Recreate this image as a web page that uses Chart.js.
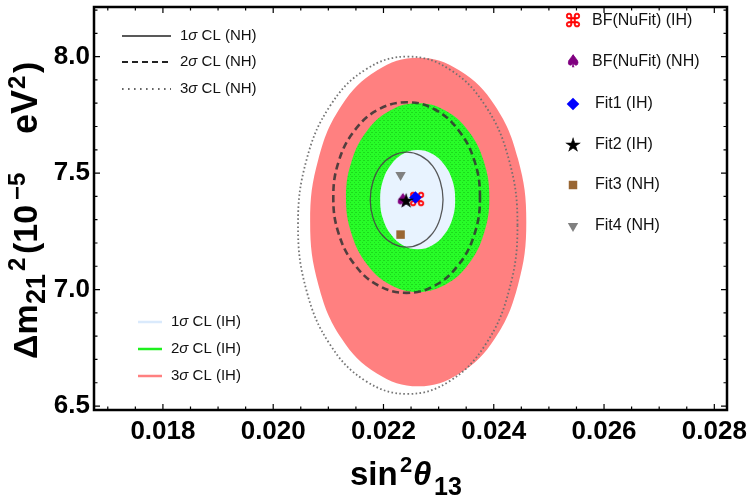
<!DOCTYPE html>
<html>
<head>
<meta charset="utf-8">
<script src="https://cdn.jsdelivr.net/npm/chart.js@4.4.1/dist/chart.umd.min.js"></script>
<style>
  html, body { margin: 0; padding: 0; background: #fff; }
</style>
</head>
<body>
<canvas id="chart" width="750" height="502"></canvas>
<script>
// axis ticks
const xTicks = [0.018, 0.020, 0.022, 0.024, 0.026, 0.028];
const yTicks = [6.5, 7.0, 7.5, 8.0];

// confidence contours (closed loops)
const ih3X = [0.02459, 0.02444, 0.02402, 0.02338, 0.02263, 0.02188, 0.02124, 0.02082, 0.02067, 0.02082, 0.02124, 0.02188, 0.02263, 0.02338, 0.02402, 0.02444];
const ih3Y = [7.29, 7.56, 7.79, 7.94, 7.995, 7.94, 7.79, 7.56, 7.29, 7.02, 6.79, 6.64, 6.585, 6.64, 6.79, 7.02];
const ih2X = [0.02392, 0.02382, 0.02354, 0.02312, 0.02262, 0.02212, 0.02170, 0.02142, 0.02132, 0.02142, 0.02170, 0.02212, 0.02262, 0.02312, 0.02354, 0.02382];
const ih2Y = [7.395, 7.55, 7.681, 7.769, 7.80, 7.769, 7.681, 7.55, 7.395, 7.24, 7.109, 7.021, 6.99, 7.021, 7.109, 7.24];
const ih1X = [0.0233, 0.02325, 0.0231, 0.02288, 0.02262, 0.02236, 0.02214, 0.02199, 0.02194, 0.02199, 0.02214, 0.02236, 0.02262, 0.02288, 0.0231, 0.02325];
const ih1Y = [7.386, 7.468, 7.537, 7.583, 7.599, 7.583, 7.537, 7.468, 7.386, 7.304, 7.235, 7.189, 7.173, 7.189, 7.235, 7.304];
const nh1X = [0.02308, 0.02303, 0.02289, 0.02267, 0.02242, 0.02217, 0.02195, 0.02181, 0.02176, 0.02181, 0.02195, 0.02217, 0.02242, 0.02267, 0.02289, 0.02303];
const nh1Y = [7.386, 7.464, 7.531, 7.575, 7.59, 7.575, 7.531, 7.464, 7.386, 7.308, 7.241, 7.197, 7.182, 7.197, 7.241, 7.308];
const nh2X = [0.02375, 0.02365, 0.02336, 0.02293, 0.02242, 0.02191, 0.02148, 0.02119, 0.02109, 0.02119, 0.02148, 0.02191, 0.02242, 0.02293, 0.02336, 0.02365];
const nh2Y = [7.395, 7.552, 7.684, 7.773, 7.804, 7.773, 7.684, 7.552, 7.395, 7.238, 7.106, 7.017, 6.986, 7.017, 7.106, 7.238];
const nh3X = [0.02443, 0.02428, 0.02385, 0.02320, 0.02244, 0.02168, 0.02103, 0.02060, 0.02045, 0.02060, 0.02103, 0.02168, 0.02244, 0.02320, 0.02385, 0.02428];
const nh3Y = [7.276, 7.553, 7.788, 7.945, 8.0, 7.945, 7.788, 7.553, 7.276, 6.999, 6.764, 6.607, 6.552, 6.607, 6.764, 6.999];

// best fit / fit points [sin^2 theta13, dm21^2]
const bfIH = [0.02261, 7.385];
const bfNH = [0.02235, 7.381];
const fit1 = [0.02258, 7.395];
const fit2 = [0.02241, 7.381];
const fit3 = [0.02231, 7.236];
const fit4 = [0.02231, 7.492];

const nhLabels = ['1', '2', '3'];
const ihLabels = ['1', '2', '3'];
const markerLabels = ['BF(NuFit) (IH)', 'BF(NuFit) (NH)', 'Fit1 (IH)', 'Fit2 (IH)', 'Fit3 (NH)', 'Fit4 (NH)'];

const toPoints = (xs, ys) => xs.map((x, i) => ({ x: x, y: ys[i] }));

/**
 * Small canvas with a text glyph, used as a point style.
 */
function glyph(ch, color, size, box) {
    const c = document.createElement('canvas');
    c.width = box; c.height = box;
    const g = c.getContext('2d');
    g.fillStyle = color;
    g.strokeStyle = color;
    g.lineWidth = 0.6;
    g.font = size + 'px "DejaVu Sans"';
    g.textAlign = 'center';
    g.textBaseline = 'middle';
    g.fillText(ch, box / 2, box / 2 + 1);
    g.strokeText(ch, box / 2, box / 2 + 1);
    return c;
}

function meshPattern() {
    const c = document.createElement('canvas');
    c.width = 4; c.height = 4;
    const g = c.getContext('2d');
    g.fillStyle = 'rgb(40,252,40)';
    g.fillRect(0, 0, 4, 4);
    g.fillStyle = 'rgb(28,218,28)';
    g.fillRect(0, 0, 1, 1);
    g.fillRect(2, 2, 1, 1);
    g.fillRect(3, 0, 1, 1);
    return g.createPattern(c, 'repeat');
}

const cmdGlyph = glyph('\u2318', '#ff0000', 18, 24);
const spadeGlyph = glyph('\u2660', '#800080', 17, 22);
const starGlyph = glyph('\u2605', '#000000', 18, 22);

const markerStyles = [
    { pointStyle: cmdGlyph, radius: 7, backgroundColor: '#ff0000' },
    { pointStyle: spadeGlyph, radius: 7, backgroundColor: '#800080' },
    { pointStyle: 'rectRot', radius: 6.3, backgroundColor: '#0000ff' },
    { pointStyle: starGlyph, radius: 7, backgroundColor: '#000000' },
    { pointStyle: 'rect', radius: 6, backgroundColor: 'rgb(153,102,51)' },
    { pointStyle: 'triangle', radius: 6, rotation: 180, backgroundColor: '#808080' }
];

function markerSet(label, pt, st) {
    return {
        label: label,
        data: [{ x: pt[0], y: pt[1] }],
        pointStyle: st.pointStyle,
        pointRadius: st.radius,
        pointRotation: st.rotation || 0,
        pointBackgroundColor: st.backgroundColor,
        pointBorderWidth: 0,
        showLine: false
    };
}

function contourSet(label, xs, ys, opts) {
    return Object.assign({
        label: label,
        data: toPoints(xs, ys),
        showLine: true,
        closed: true,
        tension: 0.4,
        pointRadius: 0,
        borderWidth: 0,
        fill: false
    }, opts);
}

// make the contour lines closed, smooth loops
const closeLoops = {
    id: 'closeLoops',
    afterDatasetUpdate(chart, args) {
        const ds = chart.data.datasets[args.index];
        if (ds && ds.closed) {
            args.meta.dataset._loop = true;
            args.meta.dataset._fullLoop = true;
        }
    }
};

function drawPieces(ctx, pieces, x0, y0) {
    pieces.forEach(p => {
        ctx.font = p.font;
        ctx.fillText(p.t, x0 + p.dx, y0 + p.dy);
    });
}

const decorations = {
    id: 'decorations',
    afterDraw(chart) {
        const ctx = chart.ctx;
        const a = chart.chartArea;
        const xs = chart.scales.x;
        const ys = chart.scales.y;
        ctx.save();

        // frame
        ctx.strokeStyle = '#000';
        ctx.lineWidth = 2.5;
        ctx.strokeRect(a.left, a.top, a.right - a.left, a.bottom - a.top);

        // inward ticks on all four sides
        ctx.lineWidth = 1.2;
        ctx.beginPath();
        for (let k = 0; k <= 24; k++) {
            const v = 0.0170 + k * 0.0005;
            if (v < xs.min || v > xs.max) continue;
            const major = xTicks.some(t => Math.abs(t - v) < 1e-7);
            const len = major ? 6 : 3.5;
            const px = xs.getPixelForValue(v);
            ctx.moveTo(px, a.bottom); ctx.lineTo(px, a.bottom - len);
            ctx.moveTo(px, a.top); ctx.lineTo(px, a.top + len);
        }
        for (let k = 0; k <= 18; k++) {
            const v = 6.5 + k * 0.1;
            if (v < ys.min || v > ys.max) continue;
            const major = yTicks.some(t => Math.abs(t - v) < 1e-7);
            const len = major ? 6 : 3.5;
            const py = ys.getPixelForValue(v);
            ctx.moveTo(a.left, py); ctx.lineTo(a.left + len, py);
            ctx.moveTo(a.right, py); ctx.lineTo(a.right - len, py);
        }
        ctx.stroke();

        // axis titles
        ctx.fillStyle = '#000';
        ctx.textAlign = 'left';
        ctx.textBaseline = 'alphabetic';
        drawPieces(ctx, [
            { t: 'sin', font: 'bold 33px "Liberation Sans"', dx: 0, dy: 0 },
            { t: '2', font: 'bold 22px "Liberation Sans"', dx: 50, dy: -13 },
            { t: '\u03B8', font: 'italic bold 33px "Liberation Sans"', dx: 63, dy: 0 },
            { t: '13', font: 'bold 25px "Liberation Sans"', dx: 84, dy: 10 }
        ], 350, 485);

        ctx.save();
        ctx.translate(37, 360);
        ctx.rotate(-Math.PI / 2);
        drawPieces(ctx, [
            { t: '\u0394m', font: 'bold 34px "Liberation Sans"', dx: 1, dy: 0 },
            { t: '21', font: 'bold 27px "Liberation Sans"', dx: 56, dy: 8 },
            { t: '2', font: 'bold 24px "Liberation Sans"', dx: 89, dy: -12 },
            { t: '(10', font: 'bold 34px "Liberation Sans"', dx: 106, dy: 0 },
            { t: '\u22125', font: 'bold 24px "Liberation Sans"', dx: 160, dy: -12 },
            { t: 'eV', font: 'bold 36px "Liberation Sans"', dx: 226, dy: 0 },
            { t: '2', font: 'bold 24px "Liberation Sans"', dx: 271, dy: -12 },
            { t: ')', font: 'bold 34px "Liberation Sans"', dx: 287, dy: 0 }
        ], 0, 0);
        ctx.restore();

        // legends
        ctx.fillStyle = '#111';
        ctx.textBaseline = 'middle';
        const sigmaText = (n, tag, x, y) => {
            ctx.font = '15px "Liberation Sans"';
            ctx.fillText(n, x, y);
            let cx = x + ctx.measureText(n).width;
            ctx.font = 'italic 15px "Liberation Sans"';
            ctx.fillText('\u03C3', cx, y);
            cx += ctx.measureText('\u03C3').width;
            ctx.font = '15px "Liberation Sans"';
            ctx.fillText(' CL (' + tag + ')', cx, y);
        };

        const nhRows = [36, 62, 89];
        const nhStyles = [
            { color: '#222', width: 1.4, dash: [] },
            { color: '#222', width: 1.8, dash: [6, 4] },
            { color: '#333', width: 1.6, dash: [1.6, 4.4] }
        ];
        nhLabels.forEach((n, i) => {
            const st = nhStyles[i];
            ctx.strokeStyle = st.color;
            ctx.lineWidth = st.width;
            ctx.setLineDash(st.dash);
            ctx.beginPath();
            ctx.moveTo(122, nhRows[i]); ctx.lineTo(171, nhRows[i]);
            ctx.stroke();
            sigmaText(n, 'NH', 180, nhRows[i]);
        });

        const ihRows = [322, 349, 376];
        const ihColors = ['rgb(218,234,252)', 'rgb(30,240,30)', 'rgb(255,128,128)'];
        ctx.setLineDash([]);
        ihLabels.forEach((n, i) => {
            ctx.strokeStyle = ihColors[i];
            ctx.lineWidth = 2.5;
            ctx.beginPath();
            ctx.moveTo(138, ihRows[i]); ctx.lineTo(162, ihRows[i]);
            ctx.stroke();
            sigmaText(n, 'IH', 171, ihRows[i]);
        });

        const mkRows = [21, 62, 104, 145, 185, 226];
        markerLabels.forEach((lab, i) => {
            const st = markerStyles[i];
            ctx.fillStyle = st.backgroundColor;
            Chart.helpers.drawPoint(ctx, {
                pointStyle: st.pointStyle,
                radius: st.radius,
                rotation: st.rotation || 0,
                borderWidth: 0
            }, 573, mkRows[i]);
            ctx.fillStyle = '#111';
            ctx.font = '16px "Liberation Sans"';
            ctx.fillText(lab, i < 2 ? 592 : 595, mkRows[i]);
        });

        ctx.restore();
    }
};

const datasets = [
    markerSet(markerLabels[5], fit4, markerStyles[5]),
    markerSet(markerLabels[4], fit3, markerStyles[4]),
    markerSet(markerLabels[3], fit2, markerStyles[3]),
    markerSet(markerLabels[2], fit1, markerStyles[2]),
    markerSet(markerLabels[1], bfNH, markerStyles[1]),
    markerSet(markerLabels[0], bfIH, markerStyles[0]),
    contourSet('1σ CL (NH)', nh1X, nh1Y, { borderWidth: 1.3, borderColor: 'rgba(70,70,70,0.9)' }),
    contourSet('2σ CL (NH)', nh2X, nh2Y, { borderWidth: 2.6, borderColor: 'rgba(50,50,50,0.85)', borderDash: [7, 4] }),
    contourSet('3σ CL (NH)', nh3X, nh3Y, { borderWidth: 1.8, borderColor: 'rgba(110,110,110,0.95)', borderDash: [1.6, 2.4] }),
    contourSet('1σ CL (IH)', ih1X, ih1Y, { backgroundColor: 'rgb(232,243,255)', fill: 'shape' }),
    contourSet('2σ CL (IH)', ih2X, ih2Y, { backgroundColor: meshPattern(), fill: 'shape' }),
    contourSet('3σ CL (IH)', ih3X, ih3Y, { backgroundColor: 'rgb(255,128,128)', fill: 'shape' })
];

const tickFont = { family: 'Liberation Sans', weight: 'bold', size: 26 };

new Chart(document.getElementById('chart'), {
    type: 'scatter',
    data: { datasets: datasets },
    options: {
        responsive: false,
        animation: false,
        events: [],
        layout: { padding: { top: 3, right: 23, left: 0, bottom: 0 } },
        plugins: {
            legend: { display: false },
            tooltip: { enabled: false }
        },
        scales: {
            x: {
                type: 'linear',
                min: 0.01675,
                max: 0.02823,
                grid: { display: false, drawTicks: false },
                border: { display: false },
                afterBuildTicks: s => { s.ticks = xTicks.map(v => ({ value: v })); },
                afterFit: s => { s.height = 92; s.paddingLeft = 0; s.paddingRight = 0; },
                ticks: {
                    autoSkip: false,
                    maxRotation: 0,
                    padding: 6,
                    color: '#000',
                    font: tickFont,
                    callback: v => v.toFixed(3)
                }
            },
            y: {
                type: 'linear',
                min: 6.483,
                max: 8.213,
                grid: { display: false, drawTicks: false },
                border: { display: false },
                afterBuildTicks: s => { s.ticks = yTicks.map(v => ({ value: v })); },
                afterFit: s => { s.width = 94; s.paddingTop = 0; s.paddingBottom = 0; },
                ticks: {
                    autoSkip: false,
                    padding: 4,
                    color: '#000',
                    font: tickFont,
                    callback: v => v.toFixed(1)
                }
            }
        }
    },
    plugins: [closeLoops, decorations]
});
</script>
</body>
</html>
